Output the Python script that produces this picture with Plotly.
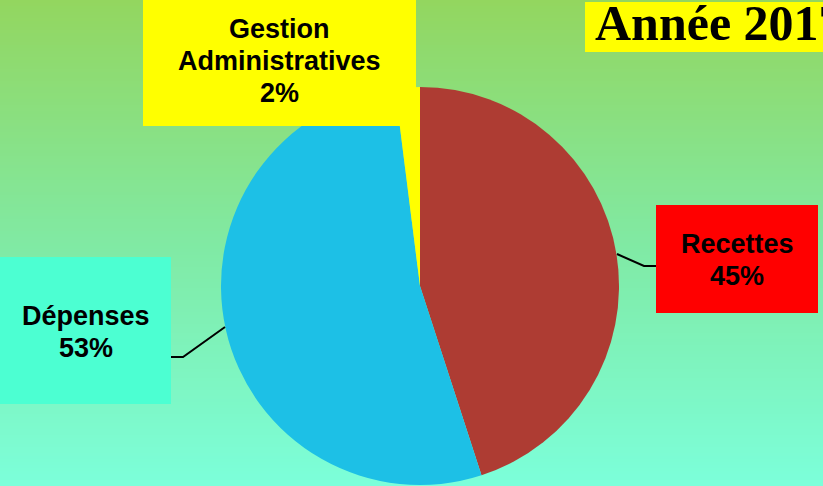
import plotly.graph_objects as go

# ---- data ----
categories = ["Recettes", "Dépenses", "Gestion Administratives"]
values = [45, 53, 2]
slice_colors = ["#AE3C33", "#1DC0E6", "#FFFF00"]
box_colors = ["#FF0000", "#4CFFD2", "#FFFF00"]
label_lines = {"Recettes": ["Recettes"], "Dépenses": ["Dépenses"],
               "Gestion Administratives": ["Gestion", "Administratives"]}
title_text = "Année 2017"

W, H = 823, 486


def px(x):
    return x / W


def py(y):
    return 1 - y / H


fig = go.Figure()

# pie: center (420, 286), radius 199 px
cx, cy, r = 420, 286, 199
fig.add_trace(go.Pie(
    labels=categories,
    values=values,
    marker=dict(colors=slice_colors, line=dict(width=0)),
    sort=False,
    direction="clockwise",
    rotation=0,
    textinfo="none",
    hoverinfo="label+percent",
    showlegend=False,
    domain=dict(x=[px(cx - r), px(cx + r)], y=[py(cy + r), py(cy - r)]),
))

shapes = []
# gradient background made of stripes
stops = [(0, (147, 214, 95)), (250, (128, 234, 165)), (486, (124, 255, 218))]


def col_at(y):
    for (y0, c0), (y1, c1) in zip(stops[:-1], stops[1:]):
        if y0 <= y <= y1:
            t = (y - y0) / (y1 - y0)
            return "rgb(%d,%d,%d)" % tuple(round(a + (b - a) * t) for a, b in zip(c0, c1))
    return "rgb(%d,%d,%d)" % stops[-1][1]


step = 3
for y in range(0, H, step):
    shapes.append(dict(type="rect", xref="paper", yref="paper", layer="below",
                       x0=0, x1=1, y0=py(min(y + step + 0.5, H)), y1=py(y),
                       fillcolor=col_at(y + step / 2), line=dict(width=0)))

# label boxes (pixel rectangles) and first-line cap centres
boxes = {
    "Recettes": (656, 205, 818, 313),
    "Dépenses": (0, 257, 171, 404),
    "Gestion Administratives": (143, -5, 416, 126),
}
first_line_y = {"Recettes": 244, "Dépenses": 316, "Gestion Administratives": 29.5}
line_gap = {"Recettes": 32, "Dépenses": 32, "Gestion Administratives": 31.5}

for cat, bc in zip(categories, box_colors):
    x0, y0, x1, y1 = boxes[cat]
    shapes.append(dict(type="rect", xref="paper", yref="paper", layer="above",
                       x0=px(x0), x1=px(x1), y0=py(y1), y1=py(y0),
                       fillcolor=bc, line=dict(width=0)))

# title box
shapes.append(dict(type="rect", xref="paper", yref="paper", layer="above",
                   x0=px(585), x1=px(830), y0=py(52), y1=py(2),
                   fillcolor="#FFFF00", line=dict(width=0)))

# leader lines
leaders = [
    [(617, 254), (644, 266), (656, 266)],
    [(225, 327), (183, 357), (171, 357)],
]
for pts in leaders:
    path = "M " + " L ".join("%f,%f" % (px(x), py(y)) for x, y in pts)
    shapes.append(dict(type="path", xref="paper", yref="paper", path=path,
                       line=dict(color="black", width=2)))

annotations = []
for cat, v in zip(categories, values):
    x0, y0, x1, y1 = boxes[cat]
    lines = label_lines[cat] + ["%d%%" % v]
    for i, t in enumerate(lines):
        annotations.append(dict(
            x=px((x0 + x1) / 2), y=py(first_line_y[cat] + i * line_gap[cat]),
            xref="paper", yref="paper",
            xanchor="center", yanchor="middle", showarrow=False, align="center",
            text="<b>%s</b>" % t,
            font=dict(family="Liberation Sans, Arial, sans-serif", size=27, color="black"),
        ))

annotations.append(dict(
    x=px(593), y=py(23), xref="paper", yref="paper",
    xanchor="left", yanchor="middle", showarrow=False,
    text="<b>%s</b>" % title_text,
    font=dict(family="Liberation Serif, Times New Roman, serif", size=50, color="black"),
))

fig.update_layout(
    width=W, height=H,
    margin=dict(l=0, r=0, t=0, b=0),
    paper_bgcolor="#86E08A",
    plot_bgcolor="rgba(0,0,0,0)",
    shapes=shapes,
    annotations=annotations,
)

fig.write_html("out.html", config={"displayModeBar": False},
               post_script="document.body.style.margin='0';document.body.style.overflow='hidden';")
